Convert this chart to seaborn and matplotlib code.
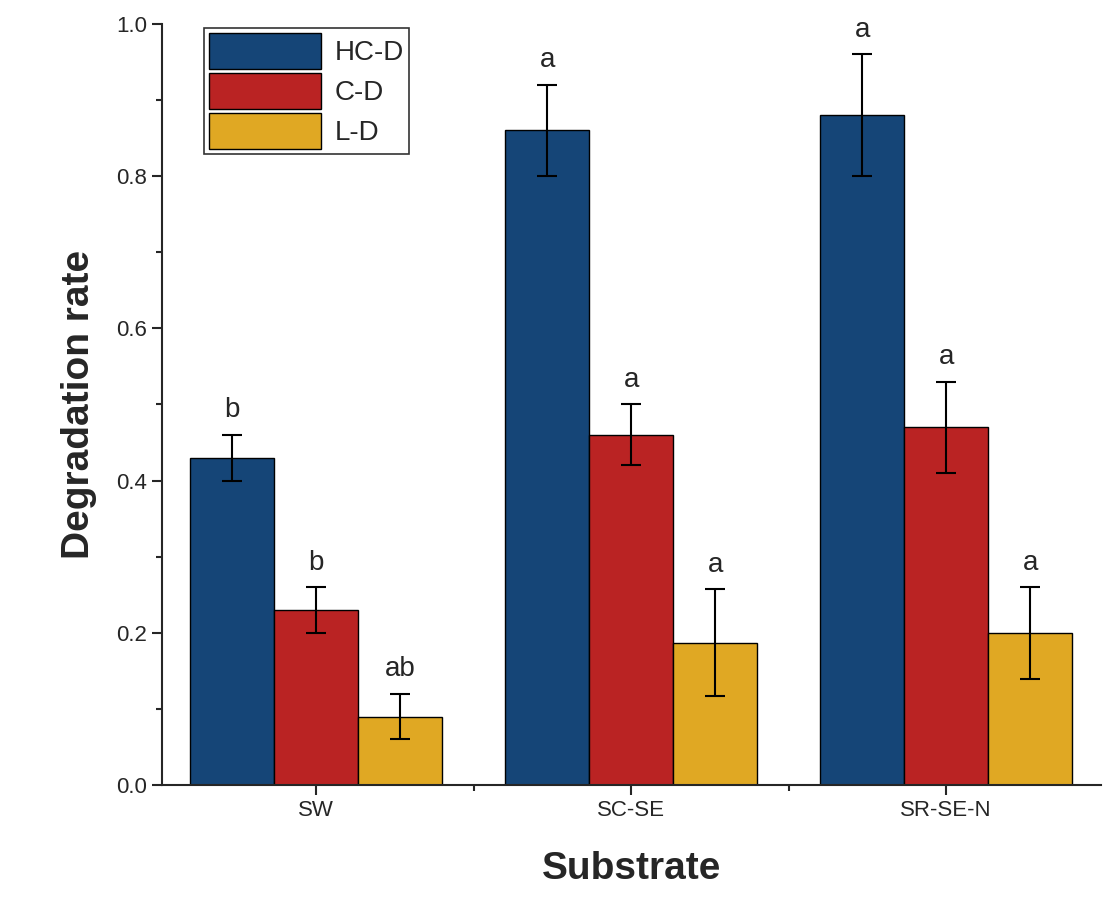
import numpy as np
import pandas as pd
import seaborn as sns
import matplotlib.pyplot as plt
from matplotlib.ticker import MultipleLocator

# ----------------------
# DATA
# ----------------------
substrates = ['SW', 'SC-SE', 'SR-SE-N']
treatments = ['HC-D', 'C-D', 'L-D']
hc_mean = [0.43, 0.86, 0.88]
hc_err = [0.03, 0.06, 0.08]
c_mean = [0.23, 0.46, 0.47]
c_err = [0.03, 0.04, 0.06]
l_mean = [0.09, 0.187, 0.20]
l_err = [0.03, 0.07, 0.06]
letters_hc = ['b', 'a', 'a']
letters_c = ['b', 'a', 'a']
letters_l = ['ab', 'a', 'a']
colors = ['#154577', '#BA2323', '#E0A823']

means = [hc_mean, c_mean, l_mean]
errs = [hc_err, c_err, l_err]
letters = [letters_hc, letters_c, letters_l]

df = pd.DataFrame({
    'Substrate': substrates * 3,
    'Treatment': np.repeat(treatments, 3),
    'rate': hc_mean + c_mean + l_mean,
})

sns.set_style('ticks')
plt.rcParams['font.family'] = ['Liberation Sans', 'DejaVu Sans']

fig = plt.figure(figsize=(11.15, 9.14), dpi=100)
ax = fig.add_axes([0.145, 0.141, 0.842, 0.833])

sns.barplot(data=df, x='Substrate', y='rate', hue='Treatment', order=substrates,
            hue_order=treatments, palette=colors, errorbar=None, width=0.8,
            edgecolor='black', linewidth=1, ax=ax, saturation=1)

# error bars and letters
bar_groups = list(ax.containers)
for i, container in enumerate(bar_groups):
    for j, bar in enumerate(container.patches):
        xc = bar.get_x() + bar.get_width() / 2
        top = means[i][j] + errs[i][j]
        ax.errorbar(xc, means[i][j], yerr=errs[i][j], color='black',
                    capsize=7, elinewidth=1.5, capthick=1.5)
        ax.text(xc, top + 0.015, letters[i][j], ha='center', va='bottom', fontsize=20)

ax.set_xlim(-0.49, 2.49)
ax.set_ylim(0, 1.0)
ax.yaxis.set_major_locator(MultipleLocator(0.2))
ax.yaxis.set_minor_locator(MultipleLocator(0.1))
ax.set_xticks([0.5, 1.5], minor=True)
ax.tick_params(axis='both', which='major', length=7, width=1.5, labelsize=16, direction='out')
ax.tick_params(axis='both', which='minor', length=4, width=1.5, direction='out')
ax.yaxis.set_major_formatter(plt.FuncFormatter(lambda v, p: f'{v:.1f}'))
for s in ['left', 'bottom']:
    ax.spines[s].set_linewidth(1.5)
sns.despine(ax=ax)

ax.set_xlabel('Substrate', fontsize=28, fontweight='bold', labelpad=22)
ax.set_ylabel('Degradation rate', fontsize=28, fontweight='bold', labelpad=14)

leg = ax.legend(loc='upper left', bbox_to_anchor=(0.045, 0.995), fontsize=20,
                frameon=True, fancybox=False, edgecolor='black',
                handlelength=4, handleheight=1.6, handletextpad=0.5,
                labelspacing=0.15, borderpad=0.2, borderaxespad=0)
leg.get_frame().set_linewidth(1.2)

fig.savefig('out.png', dpi=100)
